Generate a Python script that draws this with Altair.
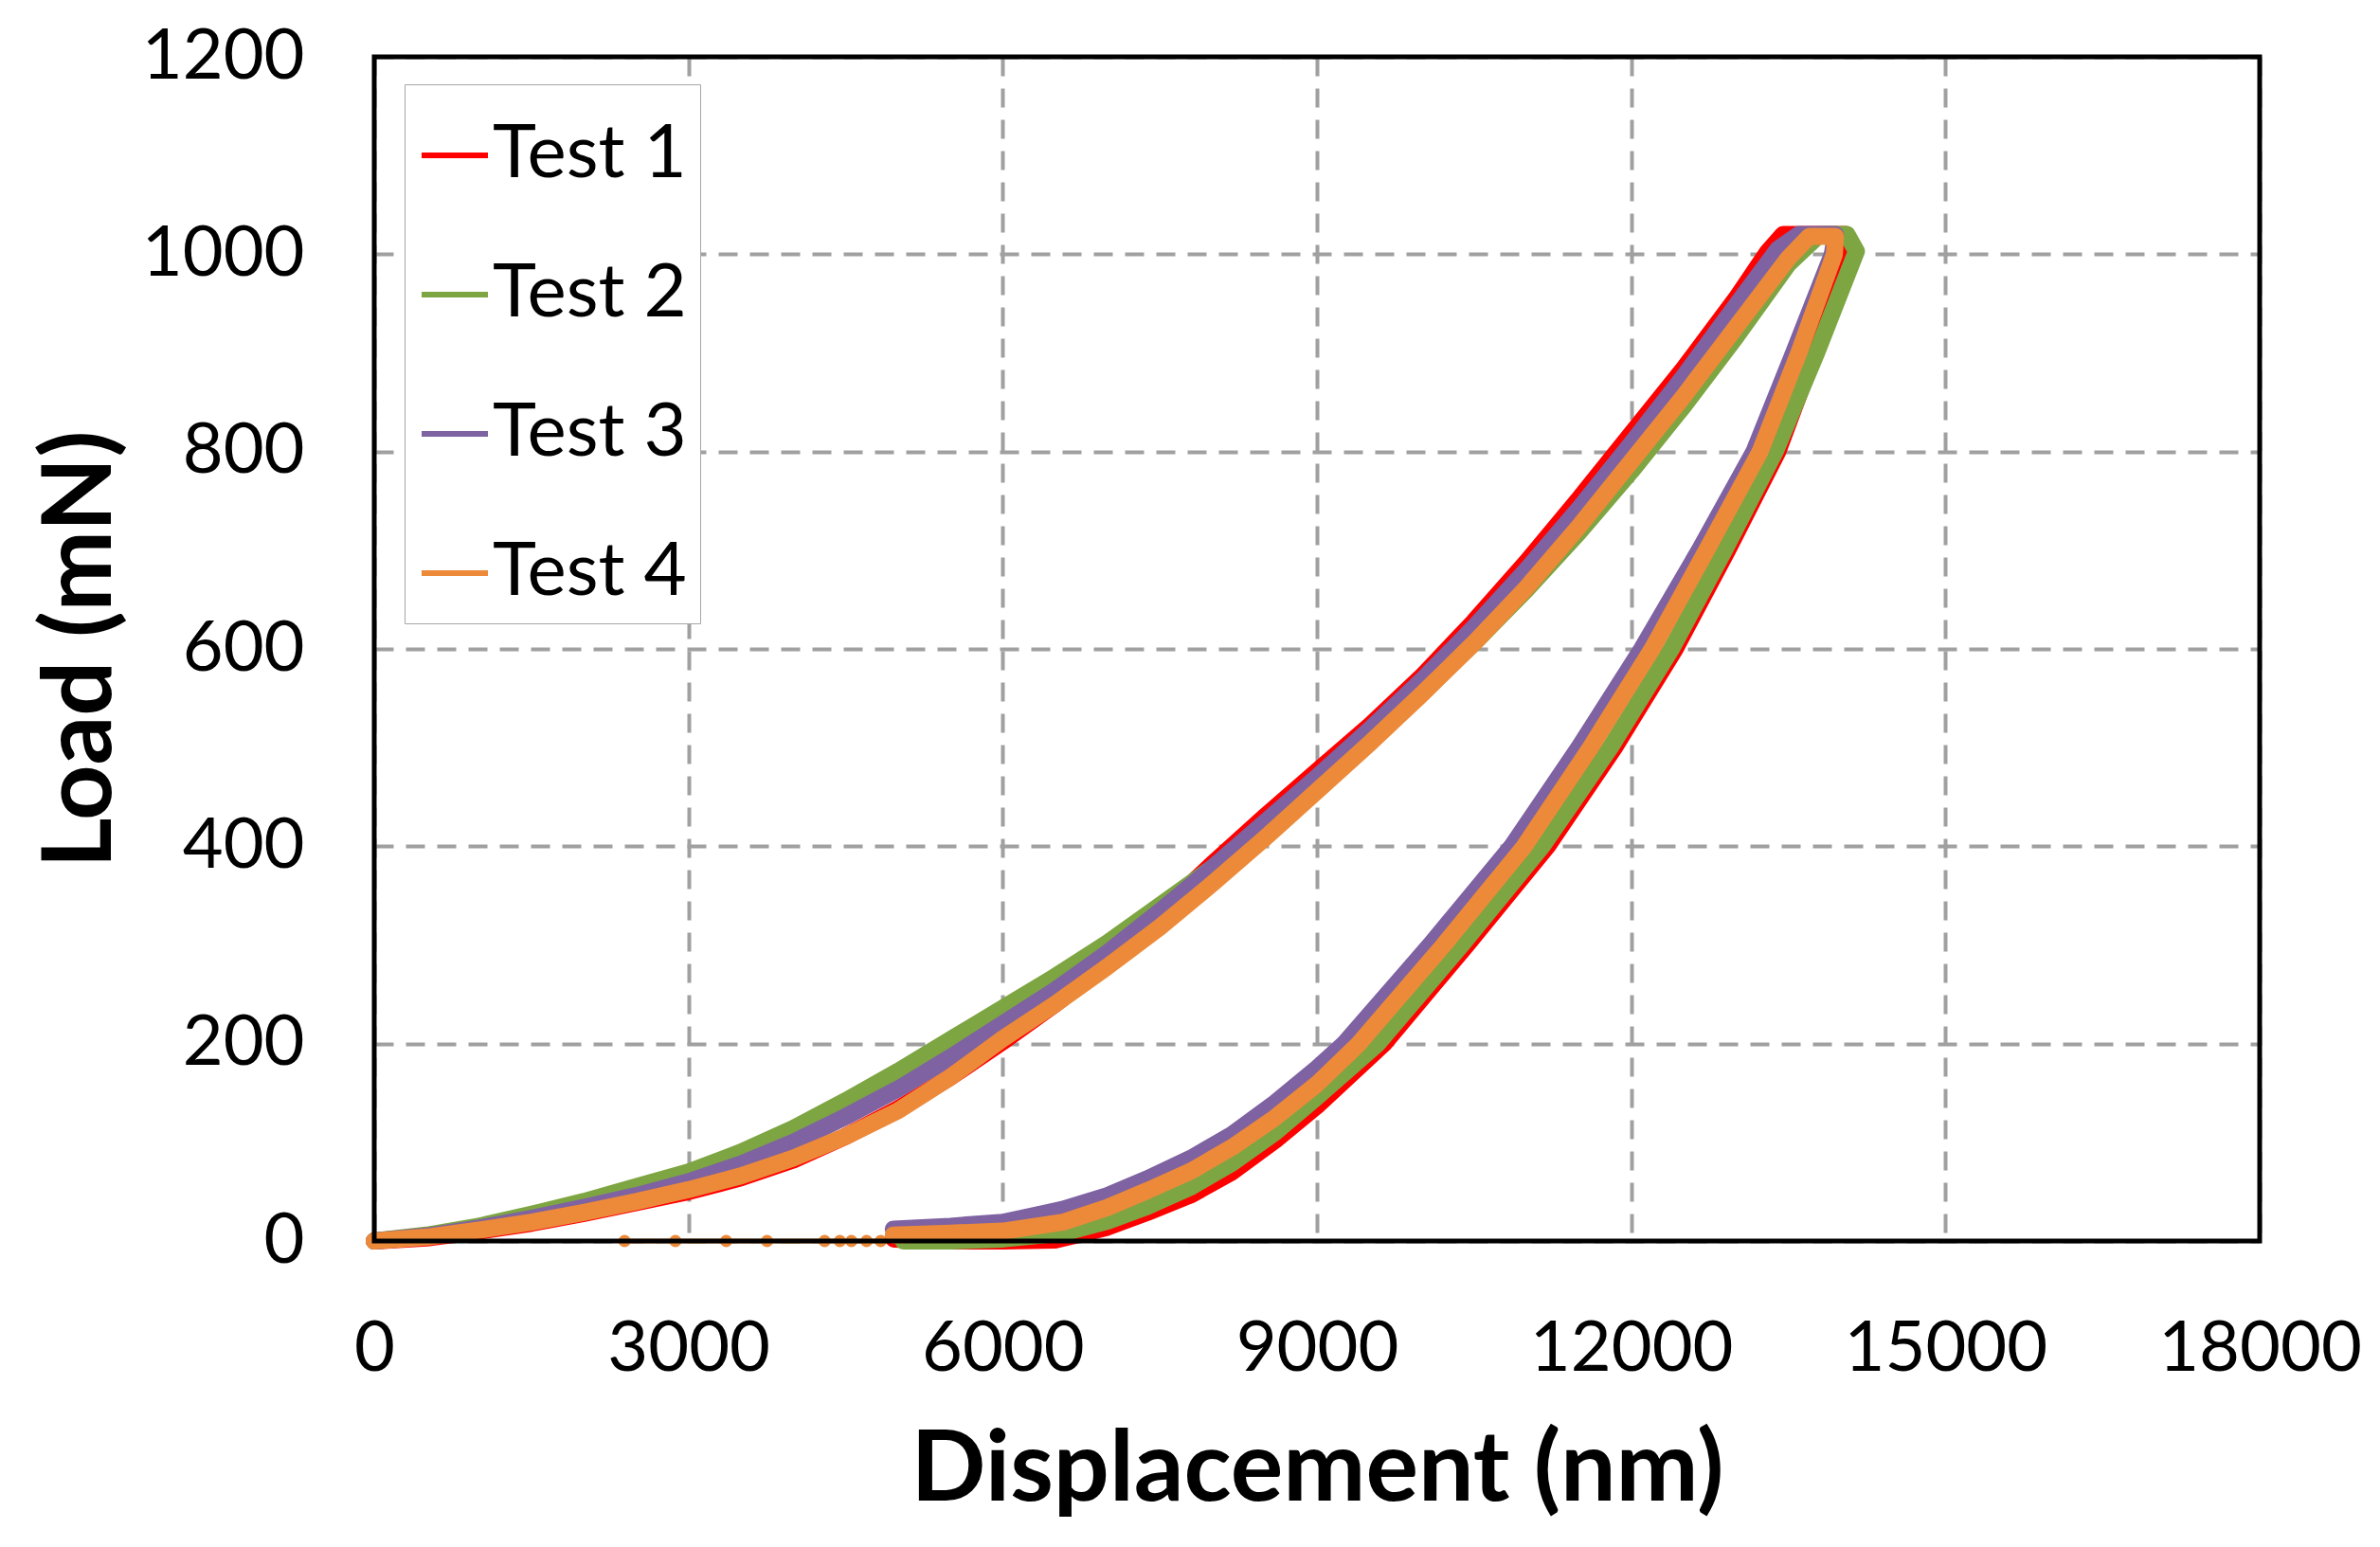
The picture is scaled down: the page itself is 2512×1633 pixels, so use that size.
import altair as alt
import pandas as pd

# ---------------- data ----------------
tests = ["Test 1", "Test 2", "Test 3", "Test 4"]
colors = ["#FF0000", "#7DA542", "#7E62A1", "#EC8A3A"]

x_ticks = [0, 3000, 6000, 9000, 12000, 15000, 18000]
y_ticks = [0, 200, 400, 600, 800, 1000, 1200]

# Test 1: loading, hold, unloading (path order)
t1_disp = [0, 500, 1000, 1500, 2000, 2500, 3000, 3500, 4000, 4500, 5000, 5500, 6000,
           6500, 7000, 7500, 8000, 8500, 9000, 9500, 10000, 10500, 11000, 11500, 12000,
           12500, 13000, 13300, 13450,
           14050,
           14090, 13750, 13400, 12920, 12420, 11840, 11200, 10430, 9640, 9000, 8600,
           8190, 7800, 7380, 7000, 6700, 6500, 6000, 5500, 4960]
t1_load = [0, 3, 10, 18, 28, 39, 50, 64, 82, 106, 134, 166, 202,
           240, 282, 332, 382, 430, 476, 522, 572, 628, 688, 752, 818,
           884, 955, 1002, 1020,
           1020,
           1000, 900, 800, 700, 600, 500, 400, 300, 200, 137, 102,
           70, 47, 29, 14, 6, 1, 0, 0, 2]

# Test 2
t2_disp = [0, 500, 1000, 1500, 2000, 2500, 3000, 3500, 4000, 4500, 5000, 5500, 6000,
           6500, 7000, 7500, 8000, 8500, 9000, 9500, 10000, 10500, 11000, 11500, 12000,
           12500, 13000, 13500, 13800,
           14060,
           14150, 13770, 13375, 12890, 12384, 11800, 11150, 10380, 9580, 9000, 8600,
           8190, 7800, 7380, 7000, 6573, 6000, 5500, 5050]
t2_load = [0, 6, 15, 27, 40, 55, 70, 90, 114, 142, 172, 204, 236,
           268, 302, 340, 378, 420, 462, 508, 556, 606, 660, 718, 780,
           846, 916, 990, 1020,
           1020,
           1003, 900, 800, 700, 600, 500, 400, 300, 200, 146, 110,
           79, 55, 35, 20, 8, 2, 0, 0]

# Test 3
t3_disp = [0, 500, 1000, 1500, 2000, 2500, 3000, 3500, 4000, 4500, 5000, 5500, 6000,
           6500, 7000, 7500, 8000, 8500, 9000, 9500, 10000, 10500, 11000, 11500, 12000,
           12500, 13000, 13400, 13600,
           13950,
           13920, 13550, 13172, 12650, 12100, 11500, 10860, 10080, 9260, 9000, 8600,
           8190, 7800, 7380, 7000, 6573, 6000, 5500, 4955]
t3_load = [0, 5, 13, 23, 34, 46, 60, 78, 100, 126, 154, 186, 220,
           254, 292, 334, 378, 424, 470, 518, 568, 622, 680, 742, 808,
           876, 948, 1005, 1020,
           1020,
           1000, 900, 800, 700, 600, 500, 400, 300, 200, 175, 140,
           108, 84, 63, 46, 32, 19, 15, 12]

# Test 4
t4_disp = [0, 500, 1000, 1500, 2000, 2500, 3000, 3500, 4000, 4500, 5000, 5500, 6000,
           6500, 7000, 7500, 8000, 8500, 9000, 9500, 10000, 10500, 11000, 11500, 12000,
           12500, 13000, 13500, 13700,
           13950,
           13940, 13600, 13230, 12720, 12200, 11610, 10980, 10210, 9400, 9000, 8600,
           8190, 7800, 7380, 7000, 6573, 6000, 5500, 4955]
t4_load = [0, 4, 11, 19, 29, 40, 52, 66, 84, 106, 132, 166, 205,
           240, 278, 318, 362, 408, 456, 504, 554, 606, 662, 724, 790,
           856, 926, 996, 1018,
           1018,
           1000, 900, 800, 700, 600, 500, 400, 300, 200, 159, 125,
           95, 71, 51, 34, 19, 10, 8, 6]

# Test 4 tail along zero load
t4_tail_disp = [4955, 4835, 4700, 4555, 4445, 4300, 3750, 3360, 2875, 2390]
t4_tail_load = [6, 0, 0, 0, 0, 0, 0, 0, 0, 0]

# ---------------- tables ----------------
rows = []
for name, xs, ys in [("Test 1", t1_disp, t1_load), ("Test 2", t2_disp, t2_load),
                     ("Test 3", t3_disp, t3_load), ("Test 4", t4_disp, t4_load)]:
    for i, (x, y) in enumerate(zip(xs, ys)):
        rows.append({"test": name, "disp": x, "load": y, "idx": i})
df = pd.DataFrame(rows)

tail = pd.DataFrame({"test": "Test 4", "disp": t4_tail_disp, "load": t4_tail_load,
                     "idx": list(range(len(t4_tail_disp)))})

FONT = "Lato"
W, H = 1990, 1250
x_scale = alt.Scale(domain=[0, 18000], nice=False, zero=False)
y_scale = alt.Scale(domain=[0, 1200], nice=False, zero=False)
color_scale = alt.Scale(domain=tests, range=colors)

x_enc = alt.X("disp:Q", scale=x_scale,
              axis=alt.Axis(title="Displacement (nm)", values=x_ticks, format="d",
                            labelPadding=78, titlePadding=40, labelFlush=False,
                            labelOverlap=False, labelLimit=0))
y_enc = alt.Y("load:Q", scale=y_scale,
              axis=alt.Axis(title="Load (mN)", values=y_ticks, format="d",
                            labelPadding=74, titlePadding=58, titleFontSize=102,
                            labelFlush=False, labelOverlap=False, labelLimit=0))

main = alt.Chart(df).mark_line(strokeWidth=18, strokeJoin="round", strokeCap="round").encode(
    x=x_enc,
    y=y_enc,
    color=alt.Color("test:N", scale=color_scale,
                    legend=alt.Legend(title=" ", titleFontSize=14, titlePadding=8,
                                      orient="none", legendX=32, legendY=29,
                                      symbolType="stroke", symbolSize=4900,
                                      symbolStrokeWidth=6, labelFontSize=78,
                                      labelFont=FONT, labelColor="black",
                                      labelOffset=1, rowPadding=69, padding=14,
                                      fillColor="white", strokeColor="#a6a6a6",
                                      labelLimit=0)),
    order=alt.Order("idx:Q"),
)

tail_layer = alt.Chart(tail).mark_line(
    strokeWidth=5, color=colors[3],
    point=alt.OverlayMarkDef(filled=True, size=170, color=colors[3])
).encode(
    x=alt.X("disp:Q", scale=x_scale),
    y=alt.Y("load:Q", scale=y_scale),
    order=alt.Order("idx:Q"),
)

frame = alt.Chart(pd.DataFrame({"f": [0]})).mark_rect(
    fill=None, stroke="black", strokeWidth=5
).encode(x=alt.value(0), x2=alt.value(W), y=alt.value(0), y2=alt.value(H))

chart = alt.layer(tail_layer, main, frame).properties(
    width=W, height=H,
    autosize=alt.AutoSizeParams(type="none"),
    padding={"left": 387, "top": 52, "right": 110, "bottom": 300},
    background="white",
).configure_view(
    stroke=None
).configure_axis(
    grid=True, gridColor="#a0a0a0", gridDash=[20, 13], gridWidth=4,
    domain=False, ticks=False,
    labelFont=FONT, labelFontSize=74, labelColor="black",
    titleFont=FONT, titleFontSize=104, titleFontWeight="bold", titleColor="black",
)

chart.save("out.html", embed_options={"renderer": "svg", "actions": False})
